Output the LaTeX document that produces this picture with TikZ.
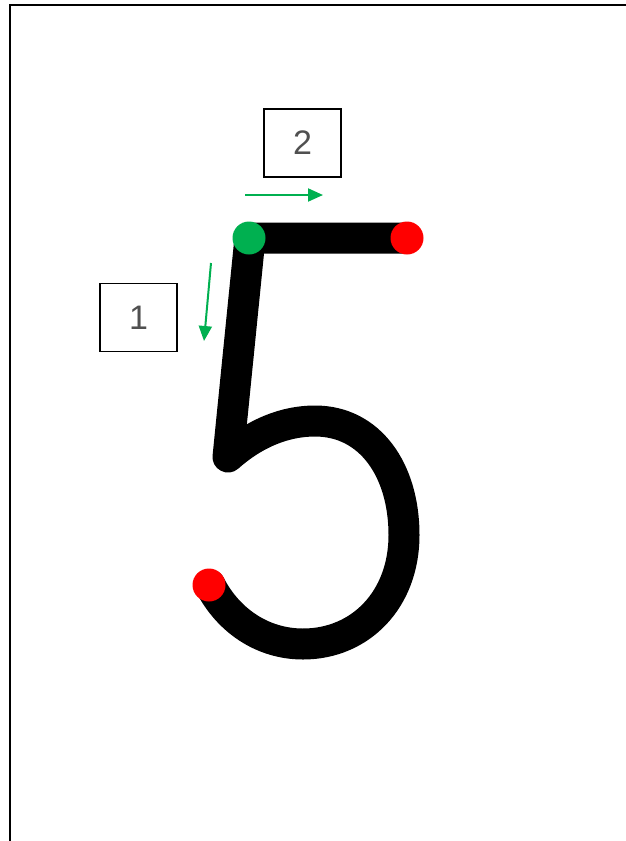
\documentclass[tikz,border=0pt]{standalone}
\usepackage{fontspec}
\setmainfont{Liberation Sans}
\usetikzlibrary{arrows.meta}
\definecolor{tracegreen}{RGB}{0,176,80}
\definecolor{tracered}{RGB}{255,0,0}
\definecolor{digitgray}{RGB}{80,80,80}
\tikzset{
  numbox/.style={draw, line width=1.5pt, minimum width=77pt, minimum height=68pt,
    inner sep=0pt, text=digitgray, font=\fontsize{34}{40}\selectfont},
  dot/.style={circle, inner sep=0pt, minimum size=33pt},
  hint/.style={draw=tracegreen, line width=2pt, -{Triangle[length=15pt,width=13pt]}}
}
\begin{document}
\begin{tikzpicture}[x=1pt, y=-1pt]
    \useasboundingbox (0,0) rectangle (626,841);
    \fill[white] (0,0) rectangle (626,841);
    % page frame
    \draw[line width=2pt] (10,841) -- (10,5) -- (626,5);
    % the digit
    \draw[line width=31pt, line cap=round, line join=round]
        (406,238) -- (250,238) -- (228,457)
        .. controls (255,433) and (285,421) .. (315,421)
        .. controls (370,421) and (404,470) .. (404,535)
        .. controls (404,600) and (360,644) .. (303,644)
        .. controls (262,644) and (228,620) .. (210,585);
    % start and end points
    \node[dot, fill=tracegreen] (start) at (249,238) {};
    \node[dot, fill=tracered] (barend) at (407,238) {};
    \node[dot, fill=tracered] (bowlend) at (209,585) {};
    % stroke numbers
    \node[numbox] (one) at (138.5,317.5) {1};
    \node[numbox] (two) at (302.5,143) {2};
    % direction hints
    \coordinate (downA) at (211,263);
    \coordinate (downB) at (204,341);
    \coordinate (rightA) at (245,195);
    \coordinate (rightB) at (323,195);
    \draw[hint] (downA) -- (downB);
    \draw[hint] (rightA) -- (rightB);
\end{tikzpicture}
\end{document}
